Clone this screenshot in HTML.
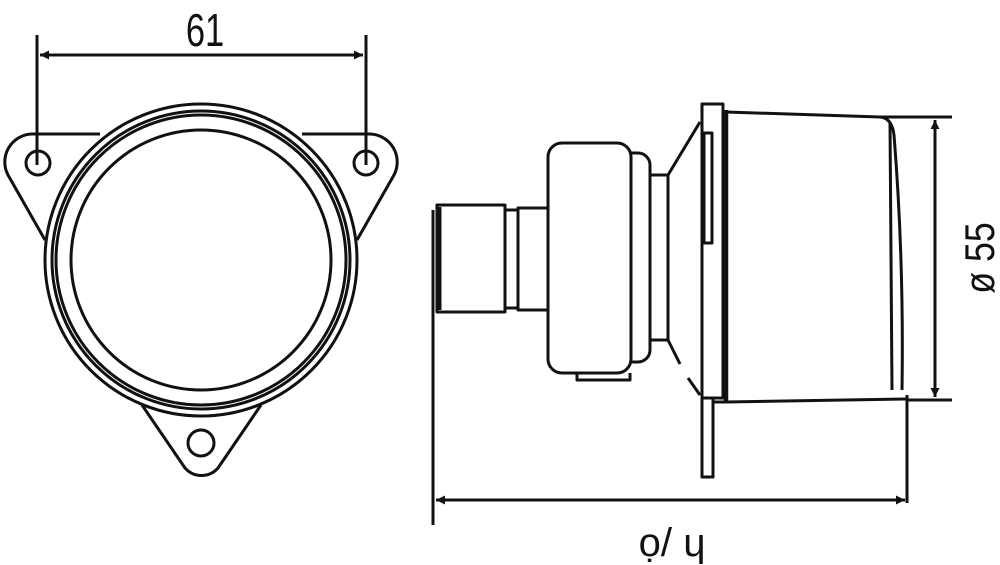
<!DOCTYPE html>
<html><head><style>
html,body{margin:0;padding:0;background:#fff;width:1000px;height:565px;overflow:hidden}
svg{display:block}
text{font-family:"Liberation Sans",sans-serif;fill:#111}
</style></head><body>
<svg width="1000" height="565" viewBox="0 0 1000 565" xmlns="http://www.w3.org/2000/svg">
<defs>
<marker id="a" viewBox="0 0 10 10" refX="10" refY="5" markerWidth="14" markerHeight="9" orient="auto-start-reverse" markerUnits="userSpaceOnUse"><path d="M0,0L10,5L0,10z" fill="#111"/></marker>
</defs>
<g fill="none" stroke="#111" stroke-width="3" stroke-linejoin="round">
<!-- LEFT VIEW -->
<circle cx="201" cy="260" r="156"/>
<circle cx="201" cy="260" r="149"/>
<circle cx="201" cy="260" r="145"/>
<circle cx="201" cy="260" r="130"/>
<path d="M100,134 L32,134 A28,28 0 0 0 8,175 L45,240"/>
<path d="M302,134 L370,134 A28,28 0 0 1 394,175 L357,240"/>
<circle cx="38" cy="163" r="12"/>
<circle cx="366" cy="163" r="12"/>
<path d="M142,405 L185,468 A22,22 0 0 0 218,468 L261,405"/>
<circle cx="201" cy="443" r="13"/>
<line x1="37" y1="35" x2="37" y2="165"/>
<line x1="366" y1="35" x2="366" y2="165"/>
<line x1="40" y1="55" x2="363" y2="55" marker-start="url(#a)" marker-end="url(#a)"/>

<!-- RIGHT VIEW -->
<line x1="433" y1="210" x2="433" y2="525"/>
<rect x="437" y="205" width="68" height="107"/>
<line x1="440" y1="207" x2="440" y2="310"/>
<rect x="505" y="210" width="13" height="98"/>
<rect x="518" y="208" width="30" height="102"/>
<rect x="548" y="143" width="83" height="230" rx="14"/>
<path d="M577,373 L577,380 L630,380 L630,373"/>
<path d="M631,153 L638,153 A12,12 0 0 1 650,165 L650,350 A12,12 0 0 1 638,362 L631,362"/>
<rect x="650" y="175" width="18" height="165"/>
<line x1="668" y1="175" x2="700" y2="122"/>
<line x1="668" y1="340" x2="680" y2="364"/>
<line x1="688" y1="378" x2="700" y2="395"/>
<rect x="702" y="104" width="21" height="294"/>
<rect x="702" y="398" width="11" height="79"/>
<rect x="704" y="133" width="8" height="110"/>
<line x1="726" y1="110" x2="726" y2="402" stroke-width="4.5"/>
<path d="M726,112 L880,117 Q892,118 894,135 Q904,260 902,390"/>
<path d="M890,122 L892,390"/>
<path d="M713,402 L726,402 L906,399"/>
<line x1="880" y1="117" x2="952" y2="117"/>
<line x1="908" y1="400" x2="952" y2="400"/>
<line x1="935" y1="120" x2="935" y2="397" marker-start="url(#a)" marker-end="url(#a)"/>
<line x1="907" y1="395" x2="907" y2="503"/>
<line x1="436" y1="500" x2="905" y2="500" marker-start="url(#a)" marker-end="url(#a)"/>
</g>
<text x="0" y="0" font-size="46" text-anchor="middle" transform="translate(205 46) scale(0.75 1)">61</text>
<text x="0" y="0" font-size="42" text-anchor="middle" transform="translate(994 258) rotate(-90) scale(0.85 1)">ø 55</text>
<text x="672" y="556" font-size="40" text-anchor="middle">ọ/ ɥ</text>
</svg>
</body></html>
